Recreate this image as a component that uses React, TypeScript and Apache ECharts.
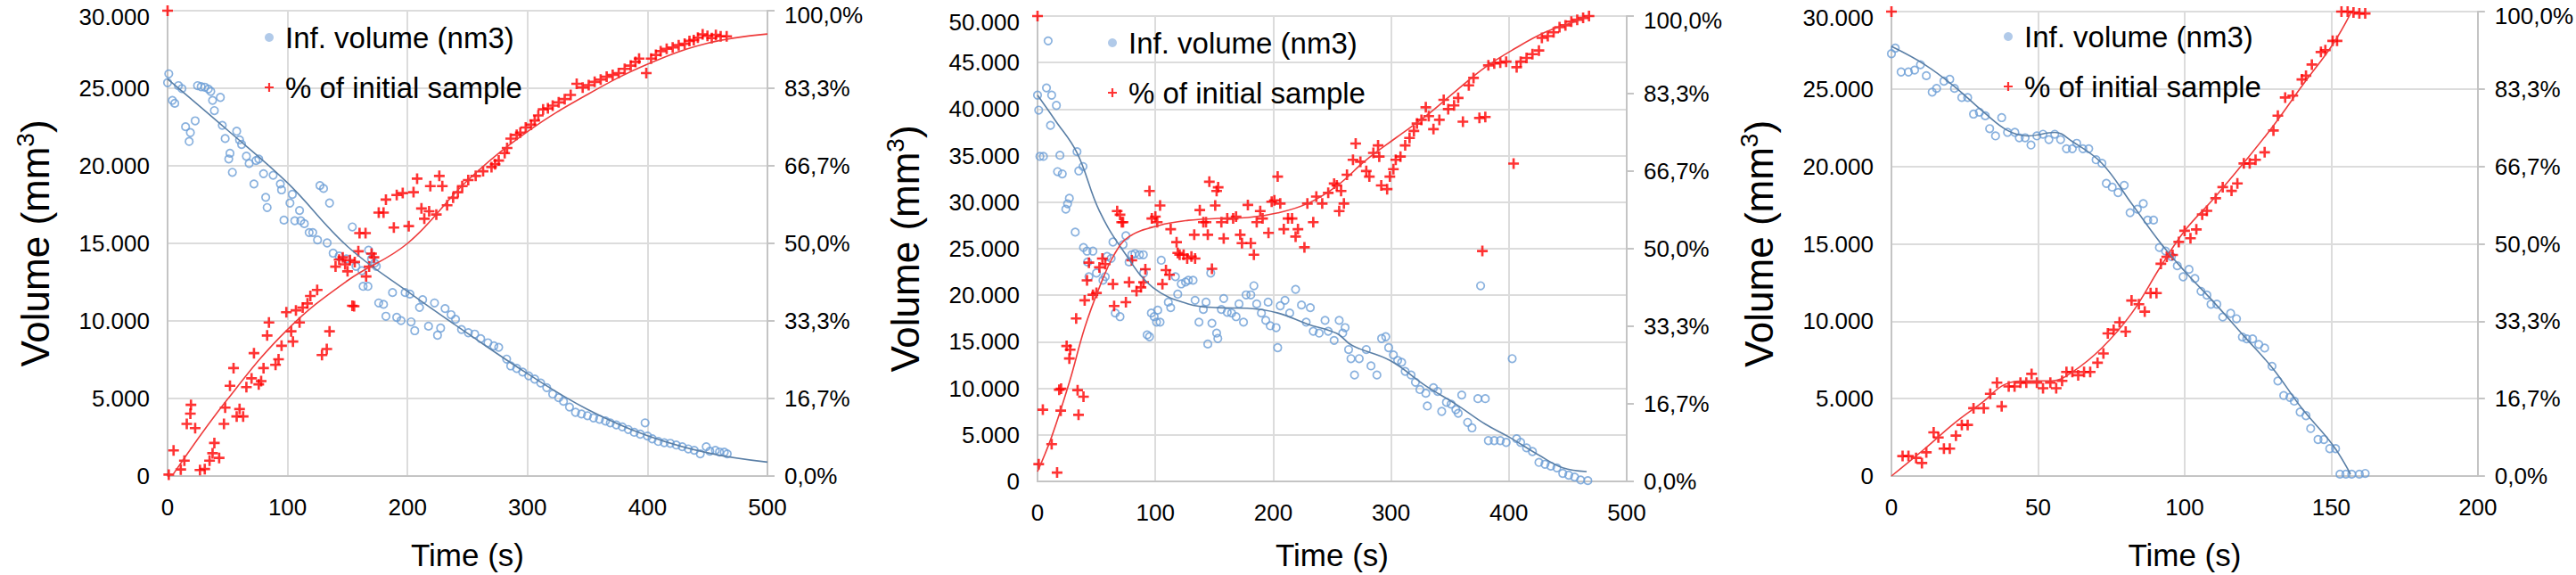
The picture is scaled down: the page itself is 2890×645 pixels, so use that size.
import * as echarts from "echarts";
import { type FC, useMemo, useRef, useEffect } from "react";

// 数据：时间 (s) 与体积 / 百分比
const VOL_NAME = "Inf. volume (nm3)";
const PCT_NAME = "% of initial sample";

const vol1 = [
  [0, 25360], [1, 25930], [4, 24220], [6, 24030], [9, 25170], [12, 24980], [15, 22520], [18, 21570], [19, 22140],
  [23, 22900], [25, 25170], [28, 25100], [31, 25070], [34, 24950], [36, 24800], [37.5, 24220], [39, 23560],
  [44, 24410], [45.6, 22610], [48, 21760], [51, 20440], [52, 20810], [54, 19580], [57.6, 22230], [60, 21670],
  [61.7, 21380], [65.7, 20620], [68, 20150], [72, 18830], [73.7, 20340], [76, 20440], [80, 19490], [81.8, 17970],
  [83, 17310], [88, 19390], [94, 18830], [95, 18450], [97, 16500], [102, 17600], [104, 18160], [106, 16460],
  [110, 17120], [111, 16460], [114, 16270], [118, 15700], [121, 15700], [125, 15220], [127, 18730], [130, 18540],
  [133, 15030], [135, 17600], [138, 14370], [143, 14180], [149, 14000], [154, 16060], [157, 13520], [162, 13240],
  [163, 12230], [167, 12230], [167.5, 14560], [170, 14000], [172.6, 13730], [174, 13520], [176, 11160],
  [180, 11070], [182, 10300], [187.5, 11830], [191, 10230], [194.6, 10020], [198, 11830], [202, 11730],
  [203, 9940], [206, 9370], [210, 10870], [212.6, 11370], [217.5, 9660], [222.5, 11160], [225, 9080],
  [227.6, 9540], [231.3, 10800], [236.3, 10400], [240, 10110], [245, 9450], [250.7, 9240], [256, 9150],
  [261, 8860], [267, 8590], [272, 8390], [276, 8300], [282.6, 7540], [286, 7100], [291, 6940], [296, 6700],
  [301, 6460], [306, 6250], [311, 6000], [316, 5700], [321, 5290], [326, 5050], [330, 4820], [335, 4450],
  [340, 4110], [345, 4000], [350, 3890], [355, 3750], [360, 3660], [365, 3550], [369, 3430], [374, 3300],
  [379, 3170], [384, 3000], [389, 2820], [394, 2700], [398, 3430], [400, 2580], [404, 2400], [409, 2230],
  [414, 2150], [419, 2110], [424, 2000], [429, 1890], [434, 1750], [439, 1660], [444, 1430], [449, 1890],
  [452, 1600], [456.6, 1660], [460, 1550], [464, 1540], [466.5, 1430],
];
const pct1 = [
  [0, 100], [1, 0.3], [5, 5.5], [11, 1.4], [14, 3.3], [16, 11.2], [19, 13.4], [19.5, 15.3], [23, 10.3], [27, 1.3],
  [31, 1.5], [35, 3.3], [37.5, 4.9], [39, 7.1], [43, 3.9], [47, 11.2], [48, 14.7], [52, 19.4], [55, 23.2],
  [57.6, 12.8], [60, 14.4], [63, 12.8], [65.7, 19.1], [70, 21], [72, 26.4], [76, 19.7], [78, 20.4], [80, 23.2],
  [83, 30.2], [84.5, 33], [90, 23.9], [92.5, 25.1], [95, 28], [99, 35.2], [103, 31.1], [104.5, 28.9], [107, 35.6],
  [110, 33], [112.6, 36.2], [116.6, 37.1], [119, 38.7], [124.7, 40], [128.7, 26], [132.7, 27.3], [135, 31.1],
  [140, 45], [143, 46.5], [146, 47], [148, 45.5], [150, 44], [152, 46.4], [154, 36.6], [155.5, 36.5], [156, 46],
  [159, 48.3], [160, 52.2], [165, 52.2], [165.5, 42.9], [168, 45], [170, 47.8], [172, 47], [176, 56.6],
  [180, 56.6], [182, 59.4], [188.6, 53.4], [191, 60.4], [196, 60.8], [201, 53.7], [205, 61], [208, 63.9],
  [211.6, 57.5], [214, 55.3], [218, 56.9], [219, 62.3], [224, 56.2], [226.5, 64.5], [229, 62.3], [233, 58.2],
  [238, 59.8], [242, 61], [245.6, 62.3], [250.6, 63.6], [256.8, 64.5], [263, 65.5], [270, 66.4], [273, 67],
  [276, 67.8], [281, 69.4], [283, 70.5], [286, 72.5], [291, 73.3], [294, 73.8], [298.5, 74.9], [303, 75.5],
  [306, 76.4], [309, 77.5], [313, 78.8], [317, 79], [321, 79.6], [326, 80.3], [331, 81], [336, 81.9],
  [341, 84.3], [346, 83.5], [351, 84], [356, 84.7], [361, 85.2], [366, 85.8], [371, 86.2], [376, 86.6],
  [381, 87.5], [386, 88.2], [390, 89], [393, 89.7], [399, 86.6], [403, 89.7], [407, 90.5], [411, 91.3],
  [416, 91.8], [421, 92.1], [426, 92.6], [431, 92.9], [435, 93.5], [438.6, 93.7], [442, 94.2], [446, 94.9],
  [450, 94.6], [453.6, 94.1], [457, 94.8], [461, 94.5], [466, 94.5],
];
const volFit1 = [
  [0, 25600], [50, 22300], [100, 18900], [150, 14800], [200, 11900], [250, 9200], [300, 6600], [350, 4300],
  [400, 2600], [450, 1500], [500, 900],
];
const pctFit1 = [
  [5, 0.5], [50, 16.5], [100, 31.5], [150, 42], [200, 50], [250, 63.5], [300, 74], [350, 82], [400, 88.5],
  [450, 93], [500, 95],
];

const vol2 = [
  [0, 41500], [1, 39890], [2, 34920], [5, 34920], [7.6, 42280], [9, 47330], [11, 38250], [12, 41500],
  [16, 40400], [17, 33280], [19, 35040], [21, 33040], [24, 29250], [25.5, 29830], [27, 30420], [32, 26780],
  [33.5, 35430], [35, 33360], [38.6, 33830], [39, 25130], [42, 24740], [42.5, 23570], [43.6, 22000],
  [47, 24740], [50, 22390], [55.5, 21610], [57.5, 22000], [59, 24160], [62.5, 23960], [64, 25720], [66, 18090],
  [70, 17700], [72.6, 25450], [75, 26390], [77.7, 23570], [80, 24350], [82.7, 24470], [86.5, 24350],
  [89.8, 24350], [90, 22390], [93, 15740], [95, 15540], [96.6, 18090], [99, 17700], [101, 17110], [102, 18400],
  [104, 17110], [105, 23760], [111, 19260], [113, 18670], [117, 22000], [119, 20120], [122, 21220],
  [125.6, 21420], [128, 21610], [132, 21610], [133.7, 19460], [137, 17110], [140.7, 18480], [143, 19260],
  [144.5, 14760], [147, 22390], [148, 16990], [152, 15930], [153, 15350], [156, 18480], [158, 19650],
  [161, 18170], [164.7, 18090], [168.5, 17700], [171, 19070], [174.8, 17110], [177, 20040], [181, 20040],
  [183.6, 21020], [186, 19070], [190, 18090], [193.7, 17300], [195.7, 19260], [197.5, 16720], [202.5, 16520],
  [203.8, 14370], [206, 18870], [210, 19460], [214, 18090], [219, 20630], [224, 18950], [228, 17110],
  [231.5, 18670], [234, 16130], [239, 15930], [244, 17300], [246.7, 16130], [251.7, 15150], [256, 17300],
  [259, 15930], [261, 16520], [264, 14170], [266, 13190], [269, 11430], [273, 13190], [279, 14170],
  [283, 12410], [288, 11430], [292, 15350], [295.5, 15540], [298, 14370], [302, 13590], [305.6, 13000],
  [309, 12800], [312, 11820], [317, 11430], [320.7, 10650], [324.5, 9870], [329.5, 9470], [330.8, 8100],
  [336, 10060], [339.6, 9670], [343, 7520], [347, 8500], [351, 8300], [355, 7710], [357, 7320], [360, 9280],
  [365, 6340], [368.7, 5750], [373.7, 8890], [376, 21020], [380, 8890], [382.6, 4380], [387.6, 4380],
  [392.7, 4380], [397.7, 4190], [402.8, 13190], [406.6, 4580], [410, 4190], [415, 3600], [420, 3210],
  [425.5, 2040], [430.6, 1840], [435.6, 1640], [440.7, 1450], [445.7, 860], [450.8, 670], [455.8, 470],
  [460.9, 160], [467, 80],
];
const pct2 = [
  [0, 100], [1, 3.7], [4.5, 15.4], [12, 8], [16.6, 1.9], [18.4, 19.7], [19.7, 15.2], [20, 19.9], [24.7, 29.1],
  [27, 26.4], [27.7, 28.3], [32.8, 35], [34, 19.6], [34.8, 14.3], [39, 18.2], [40, 38.9], [42, 43.2], [43.6, 47],
  [47, 40.1], [50, 40.5], [52.5, 46], [55, 47.9], [57.5, 46.7], [64, 42.4], [65, 37.7], [67.6, 58.1], [70, 57.3],
  [71.4, 55.7], [72.6, 55.7], [75, 38.5], [77.7, 42.8], [80, 47.5], [84, 40.9], [87.8, 41.7], [90, 42.8],
  [91.5, 45.6], [95, 62.4], [97, 56.5], [100, 56.9], [101.6, 55.7], [104, 59.3], [106, 42.4], [109, 45.4],
  [112, 44.4], [113, 54.2], [118, 51.4], [119, 49.1], [120.6, 48.7], [124, 48.7], [127, 47.9], [130.6, 48.3],
  [133, 53], [133.7, 47.9], [137.7, 58.3], [140.7, 55.7], [143, 55.7], [144.5, 53], [145.8, 64.4], [148, 45.7],
  [150.8, 59.3], [152, 62.4], [153.3, 63.2], [156, 55.7], [158, 52.2], [161, 56.5], [166, 56.5], [168.5, 56.9],
  [172, 53], [173.5, 51.2], [178.5, 59.4], [181, 51.2], [183.6, 48.7], [186, 55.7], [189, 58.1], [191, 56.5],
  [196, 53.4], [198.7, 60.1], [201, 60.4], [203.8, 65.5], [206, 59.7], [209, 54.2], [212.6, 56.5], [216, 56.5],
  [219, 52.6], [221, 54.2], [226.5, 50.3], [229, 59.7], [234, 55.7], [236.6, 61.2], [241.6, 59.7], [246.7, 62],
  [251.7, 64], [254, 63.6], [256, 58.1], [257.6, 62.4], [260, 59.7], [262.6, 65.9], [267.7, 69.1], [270, 72.6],
  [274, 68.7], [279, 66.7], [281.6, 65.5], [285, 70.6], [289, 72.2], [290, 69.8], [291.7, 63.6], [296.7, 62.8],
  [299, 65.5], [302, 67.1], [304, 69.1], [308, 69.8], [312, 72.2], [315.7, 73.8], [319.4, 75.3], [322, 76.9],
  [325.8, 77.7], [329.5, 80.4], [332, 78.5], [336, 75.7], [341, 77.7], [344.7, 82], [348.5, 80], [353.5, 80.8],
  [357, 82.4], [361, 77.3], [366, 85.1], [370, 86.7], [375, 78.1], [377.5, 49.5], [380, 78.3], [382.6, 89.4],
  [387.6, 89.8], [392.7, 90], [397.7, 90.2], [404, 68.3], [406.6, 89], [410, 90.2], [415, 91], [420, 91.8],
  [425.5, 92.6], [428, 95.3], [433, 95.7], [438, 96.5], [443, 97.6], [448, 98], [453, 98.8], [458, 99.2],
  [463, 99.6], [468, 100],
];
const volFit2 = [
  [0, 41500], [15, 38800], [33.5, 35300], [52.5, 29050], [75, 24350], [98, 20830], [128, 19070], [153, 18670],
  [178, 18600], [204, 18090], [229, 16910], [254, 15900], [267, 14600], [299, 13000], [329.5, 10260],
  [355, 8300], [380, 6150], [400, 4780], [425.5, 2820], [445.7, 1450], [466, 1060],
];
const pctFit2 = [
  [0, 2.1], [12, 9.6], [27, 21.3], [40, 33], [52.5, 41.7], [65, 48.7], [77.7, 52.6], [103, 55], [128, 56.1],
  [153, 56.5], [178.5, 56.7], [204, 57.7], [229, 59.7], [254, 63.5], [279, 69.1], [304, 73.8], [329.5, 78.5],
  [355, 83.9], [380, 89], [405, 93], [430.6, 96.5], [455.8, 98.8], [468, 100],
];

const vol3 = [
  [0, 27280], [1.3, 27640], [3.3, 26100], [5.8, 26100], [7.9, 26220], [9.9, 26570], [11.9, 25860], [13.9, 24800],
  [15.4, 25040], [17.9, 25510], [19.9, 25630], [21.5, 25040], [24, 24450], [26, 24450], [28, 23380], [30, 23500],
  [32, 23270], [33.5, 22440], [35.5, 21970], [37.6, 23150], [39.6, 22200], [42.1, 22200], [43.6, 21850],
  [45.6, 21850], [47.6, 21380], [49.6, 21970], [51.7, 22080], [53.7, 21730], [55.7, 22080], [57.7, 21730],
  [59.7, 21140], [61.7, 21140], [63.2, 21490], [65.3, 21140], [67.3, 21140], [69.8, 20430], [71.8, 20200],
  [73.3, 18900], [75.3, 18660], [77.3, 18310], [79.4, 18780], [81.4, 17010], [83.9, 17240], [85.9, 17600],
  [87.4, 16530], [89.4, 16530], [91.4, 14760], [93.5, 14530], [95.5, 14170], [97.5, 13580], [99.5, 12870],
  [101.5, 13350], [103.5, 12760], [105.6, 11930], [107.6, 11690], [109, 11100], [111, 11100], [113, 10270],
  [115.7, 10510], [117.7, 10160], [119.7, 8980], [121.2, 8860], [123.2, 8860], [125.3, 8500], [127.3, 8270],
  [129.8, 7090], [131.8, 6140], [133.8, 5200], [135.9, 5080], [137.4, 4840], [139.4, 4130], [141.4, 3900],
  [143, 3070], [145.5, 2360], [147.5, 2360], [149.5, 1770], [151.5, 1770], [153, 120], [155, 120], [157, 120],
  [159.6, 120], [161.6, 170],
];
const pct3 = [
  [0, 100], [3.8, 4.3], [5.8, 4.3], [8.4, 3.9], [10.4, 2.8], [11.9, 5.1], [14.4, 9.4], [16, 8.3], [17.9, 5.9],
  [19.9, 5.9], [22, 8.7], [24, 11], [26, 11], [28, 14.6], [31.5, 14.6], [33.7, 17.7], [36, 20.1], [37.6, 15],
  [40, 19.3], [42, 19.3], [44, 20.1], [46, 20.1], [47.8, 22], [49.6, 20.1], [51.7, 18.9], [54.2, 20.1],
  [56.2, 18.9], [58.2, 20.5], [59.7, 22.4], [61.7, 22.4], [63.7, 21.7], [65.7, 22.4], [67.8, 22.4], [70.3, 24.4],
  [72.3, 26.4], [73.8, 30.7], [75.8, 31.5], [77.8, 33.1], [79.9, 31.1], [81.9, 37.8], [84.4, 37], [86.4, 35.4],
  [88.4, 39.4], [90.4, 39.4], [91.9, 45.7], [93.9, 47.2], [95.9, 47.6], [98, 50.4], [100, 52.8], [102, 51.2],
  [104, 53.1], [106, 56.3], [107.6, 57.1], [110.6, 59.8], [113, 62.2], [116, 61.4], [118, 63], [120.2, 67.3],
  [122.2, 67.3], [124.2, 68.1], [127.3, 69.7], [130.3, 74.4], [131.8, 77.6], [134.3, 81.5], [136.9, 81.9],
  [140, 85.4], [141.4, 86.2], [143.4, 88.6], [146.5, 91.3], [148, 91.7], [150.5, 93.7], [152, 93.7],
  [153.5, 100], [155.6, 100], [157.6, 99.8], [159.6, 99.6], [161.6, 99.6],
];
const volFit3 = [
  [0, 27750], [11.4, 26570], [21.5, 25160], [31.5, 23500], [39.6, 22320], [46.6, 21970], [55.7, 22200],
  [61.7, 21610], [71.8, 20200], [81.9, 17600], [92, 15000], [100, 13230], [110, 11220], [120, 9090],
  [130, 6970], [140, 4370], [150.5, 2010], [156.6, 120],
];
const pctFit3 = [
  [0, 0], [11.4, 5.9], [21.5, 11.4], [31.5, 16.1], [38.6, 19.7], [46.6, 20.5], [54.7, 20.5], [61.7, 22.4],
  [71.8, 27.6], [81.9, 35], [92, 45.3], [100, 52.8], [110, 59.8], [120, 67.3], [130, 75.2], [140.4, 84.3],
  [150.5, 92.9], [156.6, 99.6],
];

const panels = [
  { vol: vol1, pct: pct1, volFit: volFit1, pctFit: pctFit1, xMax: 500, xStep: 100, yMax: 30000 },
  { vol: vol2, pct: pct2, volFit: volFit2, pctFit: pctFit2, xMax: 500, xStep: 100, yMax: 50000 },
  { vol: vol3, pct: pct3, volFit: volFit3, pctFit: pctFit3, xMax: 200, xStep: 50, yMax: 30000 },
];

// 版式（像素）
const grids = [
  { left: 188, top: 12, width: 673, height: 525, legendLeft: 292, legendTop: 17, nameGap: 71 },
  { left: 1164, top: 18, width: 661, height: 525, legendLeft: 1238, legendTop: 23, nameGap: 65 },
  { left: 2122, top: 13, width: 660, height: 524, legendLeft: 2243, legendTop: 16, nameGap: 71 },
];

const FONT = "'Liberation Sans', Arial, sans-serif";
const BLUE = "#6c9ed6";
const BLUE_LINE = "#5a7fa6";
const RED = "#ff0000";
const RED_LINE = "#ee3b3b";
const AXIS = "#c4c4c4";
const GRID = "#dcdcdc";
const PLUS = "path://M3.9,0H6.1V3.9H10V6.1H6.1V10H3.9V6.1H0V3.9H3.9Z";

const fmtVol = (v: number) => (v === 0 ? "0" : String(v).replace(/\B(?=(\d{3})+(?!\d))/g, "."));
const fmtPct = (v: number) => v.toFixed(1).replace(".", ",") + "%";

// 顶部刻度标签略微下移，避免被画布边缘裁切
const labelRich = (pad: number) => ({
  top: { fontSize: 26, color: "#000", fontFamily: FONT, padding: [pad, 0, 0, 0] },
});

export const VolumeCharts: FC = () => {
  const options = useMemo(() => ({
    animation: false,
    textStyle: { fontFamily: FONT },
    grid: grids.map((g) => ({ left: g.left, top: g.top, width: g.width, height: g.height })),
    legend: grids.map((g) => ({
      left: g.legendLeft,
      top: g.legendTop,
      orient: "vertical",
      itemWidth: 10,
      itemHeight: 10,
      itemGap: 16,
      selectedMode: false,
      textStyle: { fontSize: 33, color: "#000", fontFamily: FONT, lineHeight: 40, padding: [0, 0, 0, 8] },
      data: [
        { name: VOL_NAME, icon: "circle", itemStyle: { color: "#9dbde3", borderWidth: 0 } },
        { name: PCT_NAME },
      ],
    })),
    xAxis: panels.map((p, i) => ({
      type: "value",
      gridIndex: i,
      min: 0,
      max: p.xMax,
      interval: p.xStep,
      name: "Time (s)",
      nameLocation: "middle",
      nameGap: grids[i].nameGap,
      nameTextStyle: { fontSize: 35, color: "#000", fontFamily: FONT },
      axisLine: { lineStyle: { color: AXIS, width: 2 } },
      axisTick: { show: false },
      axisLabel: { fontSize: 26, color: "#000", margin: 22, fontFamily: FONT },
      splitLine: { lineStyle: { color: GRID, width: 2 } },
    })),
    yAxis: panels.flatMap((p, i) => [
      {
        type: "value",
        gridIndex: i,
        position: "left",
        min: 0,
        max: p.yMax,
        interval: 5000,
        name: "{a|Volume (mm}{s|3}{a|)}",
        nameLocation: "middle",
        nameRotate: 90,
        nameGap: 124,
        nameTextStyle: {
          rich: {
            a: { fontSize: 44, lineHeight: 50, color: "#000", fontFamily: FONT },
            s: { fontSize: 28, lineHeight: 30, verticalAlign: "top", color: "#000", fontFamily: FONT },
          },
        },
        axisLine: { show: true, lineStyle: { color: AXIS, width: 2 } },
        axisTick: { show: false },
        axisLabel: {
          fontSize: 26,
          color: "#000",
          margin: 20,
          fontFamily: FONT,
          formatter: (v: number) => (v >= p.yMax ? `{top|${fmtVol(v)}}` : fmtVol(v)),
          rich: labelRich(14),
        },
        splitLine: { lineStyle: { color: GRID, width: 2 } },
      },
      {
        type: "value",
        gridIndex: i,
        position: "right",
        min: 0,
        max: 100,
        interval: 100 / 6,
        axisLine: { show: true, lineStyle: { color: AXIS, width: 2 } },
        axisTick: { show: true, length: 8, lineStyle: { color: AXIS, width: 2 } },
        axisLabel: {
          fontSize: 26,
          color: "#000",
          margin: 19,
          fontFamily: FONT,
          formatter: (v: number) => (v >= 99.99 ? `{top|${fmtPct(v)}}` : fmtPct(v)),
          rich: labelRich(10),
        },
        splitLine: { show: false },
      },
    ]),
    series: panels.flatMap((p, i) => [
      {
        name: VOL_NAME,
        type: "scatter",
        xAxisIndex: i,
        yAxisIndex: i * 2,
        symbol: "circle",
        symbolSize: 8.5,
        clip: false,
        itemStyle: { color: "transparent", borderColor: BLUE, borderWidth: 1.7 },
        data: p.vol,
      },
      {
        name: "volFit" + i,
        type: "line",
        xAxisIndex: i,
        yAxisIndex: i * 2,
        smooth: 0.4,
        showSymbol: false,
        lineStyle: { color: BLUE_LINE, width: 1.6 },
        data: p.volFit,
      },
      {
        name: PCT_NAME,
        type: "scatter",
        xAxisIndex: i,
        yAxisIndex: i * 2 + 1,
        symbol: PLUS,
        symbolSize: 12,
        clip: false,
        itemStyle: { color: RED },
        data: p.pct,
      },
      {
        name: "pctFit" + i,
        type: "line",
        xAxisIndex: i,
        yAxisIndex: i * 2 + 1,
        smooth: 0.4,
        showSymbol: false,
        lineStyle: { color: RED_LINE, width: 1.6 },
        data: p.pctFit,
      },
    ]),
  }), []);

  const chartRef = useRef<HTMLDivElement | null>(null);
  const chartInstanceRef = useRef<echarts.ECharts | null>(null);

  useEffect(() => {
    document.body.style.margin = "0";
    if (chartRef.current && !chartInstanceRef.current) {
      chartInstanceRef.current = echarts.init(chartRef.current, null, { renderer: "svg" });
    }
    chartInstanceRef.current?.setOption(options as any);

    return () => {
      if (chartInstanceRef.current) {
        chartInstanceRef.current.dispose();
        chartInstanceRef.current = null;
      }
    };
  }, [options]);

  return <div ref={chartRef} style={{ width: 2890, height: 645, background: "#fff" }} />;
};

export default function App() {
  return <VolumeCharts />;
}
